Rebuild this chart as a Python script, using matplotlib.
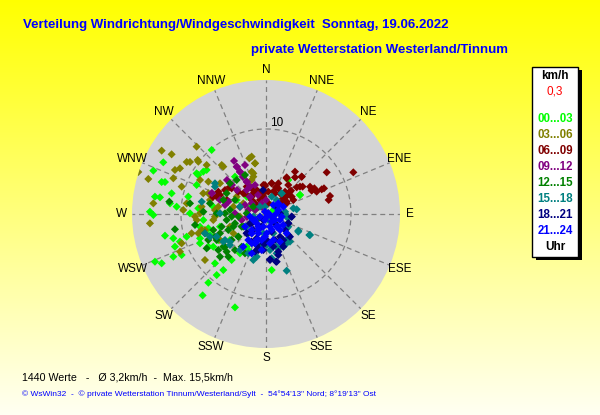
import numpy as np
import matplotlib
matplotlib.use('Agg')
import matplotlib.pyplot as plt
from matplotlib.patches import Rectangle

# wind vectors (east / north part in km/h), one pair of lists per 3 h window
e_00 = [-12.08, -13.25, -12.27, -11.88, -13.06, -12.47, -13.65, -13.25, -11.10, -11.29, -10.51, -9.14,
        -8.94, -8.16, -7.96, -6.39, -6.98, -8.16, -11.88, -10.90, -10.71, -10.12, -13.06, -12.27,
        -10.90, -9.92, -9.33, -7.76, -6.78, -6.0, -6.78, -7.45, -3.65, -5.80, -5.02, -4.04, -3.06,
        0.67, 4.0, -3.65, -6.20, -7.37, -5.41, -2.27, -4.24, -3.45, -1.88, -0.71, 0.27, 0.86,
        -7.38, -7.96, -7.76, -6.79, -7.76, -6.59, -6.2, -5.61, -2.08,
        4.0, 2.62, -2.08, -2.27, -1.29]
n_00 = [6.08, 5.10, 3.76, 3.76, 2.04, 1.96, 0.27, -0.12, 2.43, 1.25, 0.86, 2.04,
        0.08, 3.41, 0.67, 7.53, 5.18, 4.78, -2.55, -2.86, -3.84, -3.25, -5.61, -5.80,
        -5.02, -4.82, -2.67, -3.45, -3.84, -5.80, -8.08, -9.57, -10.98, -7.18, -6.59, -5.41, -4.63,
        -6.59, 2.24, 4.39, 0.86, -0.71, -1.49, -3.84, -3.06, 1.65, 0.86, -0.31, 1.25, 0.47,
        4.98, 4.59, -1.49, -1.68, -2.86, -2.47, -3.85, -3.06, 2.04,
        2.24, 4.0, -4.24, 2.04, 0.47]

e_03 = [-12.27, -15.02, -11.10, -8.16, -8.04, -9.33, -8.94, -10.12, -13.84, -13.25, -13.65, -10.90,
        -10.71, -9.92, -7.76, -6.78, -9.73, -9.33, -8.35, -7.57, -6.78, -5.41, -5.02, -1.69, -1.96,
        -1.29, -1.49, -1.69, -9.92, -10.12, -7.18, -8.75, -7.57, -6.20, -5.41, -3.84, -4.24, -5.41,
        -3.84, -3.06, -4.63, -3.45, -2.67,
        -7.96, -6.98, -5.21, -7.38, -6.59, -7.76, -6.0, -8.15, -7.18, -5.61, -6.0, -7.96, -4.82,
        -1.29, -1.68, -1.49, -1.88]
n_03 = [7.45, 4.94, 7.02, 7.92, 6.35, 6.12, 6.12, 5.37, 4.12, 1.25, -1.10, 4.20,
        5.18, 3.22, 4.0, 3.80, 0.47, 1.25, -0.31, 0.86, 2.43, 3.61, 5.57, 6.75, 6.55,
        5.96, 4.78, 4.0, -3.45, -4.43, -5.41, -2.27, -1.88, -0.71, 0.08, 0.86, -1.49, -3.06,
        -2.27, -0.31, 2.82, 2.04, 1.25,
        6.15, 5.76, 5.76, 2.43, 1.65, 0.08, -0.31, -0.71, -1.88, 0.86, 0.47, -2.27, 1.45,
        5.96, 4.98, 4.39, 3.21]

e_06 = [10.27, 7.14, 5.69, 6.55, 5.37, 5.96, 6.82, 7.53, 7.37, 4.20, 3.41, 2.43, 4.0, 3.61, 4.31,
        2.94, 2.63, 2.35, 3.02, 3.22, 2.43, 2.04, 0.67, 1.18, -0.12, 0.27, 0.86, 1.45, 1.65,
        -1.49, -1.10, -1.88, -0.71, -1.69, -2.27, -2.67, -0.31, -0.90, -1.29,
        -6.24, -5.41, -4.24, -4.59, -5.80,
        -5.61, -4.82, -4.04, -3.26, -2.47, -1.69, -0.90, -0.31,
        3.41, 4.20, 2.43, 2.62, 1.45, 0.67, -0.12, -0.32, 1.06, 2.24, 2.82, 2.04, 2.43, 1.65,
        5.38, 5.18, -1.68, -0.91, 0.27]
n_06 = [4.90, 4.90, 3.02, 2.90, 2.75, 2.63, 3.02, 2.12, 1.65, 4.39, 4.31, 4.31, 3.22, 3.14, 3.22,
        2.75, 2.43, 2.04, 2.04, 1.65, 1.45, 1.25, 3.61, 3.14, 3.29, 2.63, 2.63, 3.02, 2.43,
        2.43, 2.82, 2.04, 1.65, 3.02, 3.22, 2.43, 2.04, 2.43, 1.25,
        2.0, 2.24, 3.18, 1.65, 2.04,
        2.62, 2.82, 3.02, 2.62, 2.43, 2.04, 2.62, 3.41,
        4.98, 4.39, 4.20, 3.41, 3.61, 3.61, 3.41, 2.43, 2.43, 2.62, 2.62, 1.85, 1.26, 1.45,
        2.82, 3.21, 1.65, 0.86, 1.26]

e_09 = [-3.76, -3.41, -3.06, -2.71, -2.24, -6.35, -4.59, -5.41, -3.41, -3.06, -1.88, -0.47,
        -2.24, -1.29, -0.94, -4.0, -2.47, 0.0, -4.82,
        -3.45, -3.06, -2.67, -2.27, -1.88, -6.39, -4.43, -2.47, -1.29, -0.51, -3.65, -2.86,
        -2.27, -1.88, -1.68, -1.29, -2.08]
n_09 = [6.24, 5.53, 4.94, 4.35, 3.76, 2.47, 4.0, 1.65, 2.82, 0.82, 2.0, 0.82,
        -0.35, 3.41, 2.24, 3.41, 5.76, 1.65, 1.06,
        5.57, 4.98, 4.39, 3.80, 3.21, 2.43, 1.45, 1.06, 0.47, 1.26, 0.08, -0.71,
        2.82, 2.04, 1.26, 0.67, 0.47]

e_12 = [-11.37, -10.71, -8.94, -8.35, -7.37, -7.18, -6.98, -6.20, -5.80, -5.41, -5.02, -4.63, -5.41,
        -4.63, -3.84, -3.25, -4.24, -5.02, -5.80, -6.59, -3.25, -2.67, -2.27, -1.49, -1.10,
        -2.47, -3.45, -4.24, -4.63, -3.65,
        -4.82, -4.04, -5.21, -4.43, -3.65, -2.86, -3.26, -4.04, -4.82, -5.61, -3.65, -2.86, -2.47,
        -4.43, -2.08, -6.0, -6.79]
n_12 = [1.45, -1.80, 1.25, -1.29, 0.27, -2.27, -4.04, -1.88, -3.06, -2.27, -3.84, -4.43, -5.02,
        -0.71, -1.49, -0.31, 0.47, 1.65, 0.08, 1.25, -2.67, -1.49, 0.08, 0.86, -0.71,
        4.59, 4.0, 3.61, 2.43, 1.65,
        0.08, -0.31, -1.49, -1.88, -1.10, -1.49, -2.67, -3.06, -3.85, -4.24, -4.24, -3.85, -4.63,
        -5.02, -2.27, -2.67, -3.06]

e_15 = [-6.0, -5.41, -6.59, -5.02, -4.24, -3.06, -1.49, 2.43, 3.80, 5.10, 2.82, 2.43, 2.63, 2.24,
        3.22, 1.84, 1.25, 0.67, -0.71, 0.08, 1.25, -0.71, -1.49, -2.27, -3.06, 0.27, 0.86,
        -0.31, -2.08, 1.25,
        -7.56, -6.0, -5.8, -4.82, -4.24, -7.18,
        1.85, 3.61, 2.24, 2.43, 2.62, 3.80, 5.18, 2.62, 2.43, 2.04, 1.45, 0.47, -1.09, 0.67, -0.12, 1.06]
n_15 = [3.22, 0.08, -2.67, -3.25, -3.25, -4.24, -5.41, -6.67, -2.08, -2.47, -3.25, -1.69, -0.51, 0.08,
        0.67, 2.43, 1.65, 2.04, -3.84, -3.65, -3.84, 0.86, -0.31, -1.49, 0.86, -0.71, -2.27,
        -2.27, -4.63, -4.63,
        1.45, 3.61, -2.67, -3.06, -3.65, -2.27,
        2.43, 0.55, 0.27, -0.32, -1.49, -1.96, -2.47, -2.86, -3.45, -3.85, -4.04, -4.24, -5.02, -5.21, 0.86, 0.86]

e_18 = [-2.27, -1.69, -1.10, -0.31, 0.47, 1.18, 1.45, 2.04, 2.82, 2.63, 3.02, 1.65, 1.25, 0.67,
        0.08, -0.71, -1.49, 1.65, 0.86, -0.31, 0.27, 1.06, -1.69, -0.35, -1.29,
        -1.88, -1.10, -0.51, -0.91, -2.27, -0.32,
        3.02, 2.62, 2.24, 2.62, 1.06, 1.85, -0.12, -0.91, 0.47, 1.26, 1.45, 2.04]
n_18 = [-2.27, -3.25, -3.65, -4.24, -5.33, -5.61, -4.82, -3.84, -2.67, -1.10, -0.31, 0.08, 0.86, -2.08,
        -3.06, -1.49, -1.88, -2.67, -3.84, -0.71, 0.08, -1.10, -1.10, 2.82, -4.43,
        -1.10, -2.86, -1.49, -4.24, -2.27, -3.45,
        -0.32, -1.09, -1.88, -2.47, -3.06, -3.45, -3.45, -4.04, -5.41, -5.61, -4.43, -3.06]

e_21 = [-1.49, -0.71, 0.08, 0.86, 1.25, 1.65, 1.25, 0.47, -0.31, -1.10, -1.88, -0.90, 0.08, 0.86,
        1.65, 2.04, 1.45, 0.86, 2.43, -0.51, 0.47, -1.69, -1.10, 2.04, 0.67, -0.12, 1.65,
        -2.47, -1.68, -0.91, -2.08, -1.29, -0.51, -2.67, -1.68,
        1.45, 0.67, -0.12, -0.91, -1.68, 0.67, 1.45, -0.12, -0.91, -1.68, 1.06, 1.85, 1.45, 0.27, -1.29]
n_21 = [-0.71, -0.31, -0.31, -0.31, 0.08, -0.71, -1.49, -1.49, -1.49, -1.10, -0.31, -2.27, -2.27, -3.06,
        -1.88, 0.86, 1.25, 1.06, -2.27, -3.06, -3.45, -1.88, -3.06, -1.29, -0.90, 0.27, -3.25,
        -1.49, -2.27, -1.88, -3.06, -3.45, -4.24, -3.85, -4.63,
        0.47, -0.32, -0.71, -1.49, -2.27, -1.88, -1.49, -2.67, -3.06, -3.45, -0.71, -0.32, 1.06, 0.08, -0.71]

windows = ['00...03', '03...06', '06...09', '09...12', '12...15', '15...18', '18...21', '21...24']
colors = ['#00ff00', '#808000', '#800000', '#800080', '#008000', '#008080', '#000080', '#0000ff']
east = [e_00, e_03, e_06, e_09, e_12, e_15, e_18, e_21]
north = [n_00, n_03, n_06, n_09, n_12, n_15, n_18, n_21]

dirs = ['N', 'NNE', 'NE', 'ENE', 'E', 'ESE', 'SE', 'SSE',
        'S', 'SSW', 'SW', 'WSW', 'W', 'WNW', 'NW', 'NNW']

W, H = 600, 415
fig = plt.figure(figsize=(6, 4.15), dpi=100)

# yellow -> pale background
bg = fig.add_axes([0, 0, 1, 1])
grad = np.linspace(0, 1, 256).reshape(-1, 1)
top = np.array([1.0, 1.0, 0.0])
bot = np.array([1.0, 1.0, 0.95])
img = top + (bot - top) * grad[:, :, None]
bg.imshow(img, aspect='auto', extent=[0, 1, 0, 1], origin='upper')
bg.set_xlim(0, 1)
bg.set_ylim(0, 1)
bg.axis('off')

cx, cy, rad = 266, 214, 134
ax = fig.add_axes([(cx - rad) / W, (H - cy - rad) / H, 2 * rad / W, 2 * rad / H], projection='polar')
ax.set_facecolor('#d4d4d4')
ax.set_theta_zero_location('N')
ax.set_theta_direction(-1)
ax.spines['polar'].set_visible(False)
ax.set_ylim(0, 15.76)
ax.set_thetagrids(np.arange(0, 360, 22.5), labels=dirs, fontsize=8.5, family='Liberation Sans')
ax.set_rgrids([10], labels=['10'], angle=3, fontsize=8.5, family='Liberation Sans')
ax.tick_params(axis='x', pad=-3)
ax.grid(True, color='#808080', linestyle=(0, (4, 3)), linewidth=0.9)

for e, n, c in zip(east, north, colors):
    e = np.array(e)
    n = np.array(n)
    th = np.arctan2(e, n)
    r = np.hypot(e, n)
    ax.scatter(th, r, s=17, marker='D', color=c, edgecolors='none', zorder=3)

def px(x, y):
    return x / W, 1 - y / H

fig.text(*px(23, 25), 'Verteilung Windrichtung/Windgeschwindigkeit  Sonntag, 19.06.2022',
         color='#0000ff', fontsize=9.5, fontweight='bold', family='Liberation Sans', va='center')
fig.text(*px(251, 50), 'private Wetterstation Westerland/Tinnum',
         color='#0000ff', fontsize=9.5, fontweight='bold', family='Liberation Sans', va='center')

# legend box with shadow
bx, by, bw, bh = 532, 67, 46, 190
fig.patches.append(Rectangle(px(bx + 4, by + bh + 3), bw / W, bh / H, transform=fig.transFigure,
                             facecolor='black', edgecolor='none', zorder=1))
fig.patches.append(Rectangle(px(bx, by + bh), bw / W, bh / H, transform=fig.transFigure,
                             facecolor='white', edgecolor='black', linewidth=1, zorder=2))
lx = bx + bw / 2
fig.text(*px(lx, 76), 'km/h', ha='center', va='center', fontsize=8.5, fontweight='bold',
         family='Liberation Sans', zorder=3)
fig.text(*px(lx, 92), '0,3', ha='center', va='center', fontsize=8.5, color='red',
         family='Liberation Sans', zorder=3)
for i, (lab, c) in enumerate(zip(windows, colors)):
    fig.text(*px(lx, 119.3 + i * 16.0), lab, ha='center', va='center', fontsize=8.3,
             fontweight='bold', color=c, family='Liberation Sans', zorder=3)
fig.text(*px(lx, 247), 'Uhr', ha='center', va='center', fontsize=8.5, fontweight='bold',
         family='Liberation Sans', zorder=3)

fig.text(*px(22, 377), '1440 Werte   -   Ø 3,2km/h  -  Max. 15,5km/h', va='center',
         fontsize=7.7, family='Liberation Sans')
fig.text(*px(22, 394), '© WsWin32  -  © private Wetterstation Tinnum/Westerland/Sylt  -  '
         '54°54\'13" Nord; 8°19\'13" Ost', va='center', fontsize=6.0, color='#0000ff',
         family='Liberation Sans')

fig.savefig('out.png', dpi=100)
